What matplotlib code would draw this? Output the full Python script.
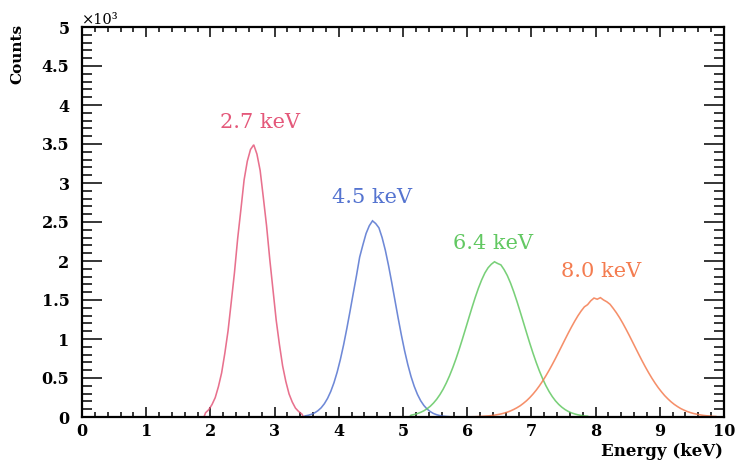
import numpy as np
import matplotlib
matplotlib.use("Agg")
import matplotlib.pyplot as plt
from matplotlib.ticker import MultipleLocator, FuncFormatter

# Histogram bin width in keV
BIN_WIDTH = 0.05

# Counts per bin for each line (first bin edge given separately)
red_start = 1.90
red_counts = [55, 94, 160, 248, 390, 566, 818, 1105, 1475, 1852,
              2290, 2660, 3040, 3280, 3430, 3490, 3370, 3160, 2810, 2450,
              2020, 1630, 1240, 930, 655, 455, 296, 192, 114, 70, 38]

blue_start = 3.45
blue_counts = [14, 22, 35, 54, 81, 118, 170, 239, 328, 440,
               577, 740, 926, 1134, 1356, 1585, 1811, 2050, 2206, 2353,
               2452, 2515, 2480, 2425, 2299, 2137, 1940, 1722, 1494, 1266,
               1049, 849, 672, 519, 393, 290, 209, 148, 102, 69,
               45, 29, 18, 11, 7, 4]

green_start = 5.10
green_counts = [23, 32, 44, 60, 80, 106, 138, 179, 228, 287,
                356, 437, 529, 632, 745, 868, 998, 1133, 1269, 1404,
                1533, 1652, 1757, 1846, 1913, 1958, 1990, 1968, 1950, 1889,
                1813, 1717, 1605, 1482, 1350, 1215, 1079, 945, 818, 699,
                589, 491, 403, 327, 262, 207, 162, 125, 95, 71,
                53, 39, 28, 20, 14, 10]

orange_start = 5.80
orange_counts = [1, 1, 1, 2, 2, 3, 4, 6, 8, 11,
                 14, 18, 24, 31, 39, 50, 62, 78, 97, 119,
                 144, 175, 209, 249, 294, 344, 400, 461, 527, 598,
                 673, 751, 832, 914, 996, 1077, 1155, 1229, 1298, 1359,
                 1412, 1440, 1490, 1525, 1510, 1530, 1500, 1477, 1445, 1392,
                 1335, 1271, 1200, 1124, 1045, 963, 881, 799, 719, 642,
                 569, 500, 436, 377, 324, 275, 233, 195, 162, 134,
                 109, 89, 71, 57, 45, 36, 28, 21, 16, 13,
                 9, 7]

peak_labels = ["2.7 keV", "4.5 keV", "6.4 keV", "8.0 keV"]
colors = ["#e4587a", "#5574d0", "#62c862", "#f47c50"]

series = [(red_start, red_counts), (blue_start, blue_counts),
          (green_start, green_counts), (orange_start, orange_counts)]

# Label anchor points (keV, counts)
label_pos = [(2.78, 3780), (4.52, 2820), (6.40, 2230), (8.08, 1860)]

fig = plt.figure(figsize=(7.38, 4.68), dpi=100)
fig.patch.set_facecolor("white")
ax = fig.add_axes([82 / 738, 51 / 468, 642 / 738, 390 / 468])

for (start, counts), col in zip(series, colors):
    counts = np.asarray(counts, dtype=float)
    n = len(counts)
    centers = start + BIN_WIDTH * (np.arange(n) + 0.5)
    # outline of the histogram, closed to zero at its outer bin edges
    xs = np.r_[start, centers, start + BIN_WIDTH * n]
    ys = np.r_[0.0, counts, 0.0]
    ax.plot(xs, ys, color=col, lw=1.15, alpha=0.85, solid_joinstyle="miter")

for text, (x, y), col in zip(peak_labels, label_pos, colors):
    ax.text(x, y, text, color=col, fontsize=15, family="DejaVu Serif",
            ha="center", va="center")

ax.set_xlim(0, 10)
ax.set_ylim(0, 5000)
ax.xaxis.set_major_locator(MultipleLocator(1))
ax.xaxis.set_minor_locator(MultipleLocator(0.2))
ax.yaxis.set_major_locator(MultipleLocator(500))
ax.yaxis.set_minor_locator(MultipleLocator(100))
ax.yaxis.set_major_formatter(FuncFormatter(lambda v, p: f"{v / 1000:g}"))

for s in ax.spines.values():
    s.set_linewidth(1.6)
    s.set_color("black")

ax.tick_params(axis="x", which="major", direction="in", length=7.5, width=1.1,
               top=True, bottom=True, pad=4)
ax.tick_params(axis="x", which="minor", direction="in", length=3.8, width=1.1,
               top=True, bottom=True)
ax.tick_params(axis="y", which="major", direction="in", length=14.5, width=1.1,
               left=True, right=True, pad=9)
ax.tick_params(axis="y", which="minor", direction="in", length=7.2, width=1.1,
               left=True, right=True)

for lab in ax.get_xticklabels() + ax.get_yticklabels():
    lab.set_family("DejaVu Serif")
    lab.set_fontweight("bold")
    lab.set_fontsize(11.5)

ax.text(0.0, 1.0, "×10³", transform=ax.transAxes, ha="left", va="bottom",
        fontsize=10.5, family="DejaVu Serif")

fig.text(17 / 738, 1 - 24 / 468, "Counts", rotation=90, ha="center", va="top",
         fontsize=11, fontweight="bold", family="DejaVu Serif")
fig.text(723 / 738, 1 - 452 / 468, "Energy (keV)", ha="right", va="center",
         fontsize=12, fontweight="bold", family="DejaVu Serif")

fig.savefig("out.png", dpi=100, facecolor="white")
